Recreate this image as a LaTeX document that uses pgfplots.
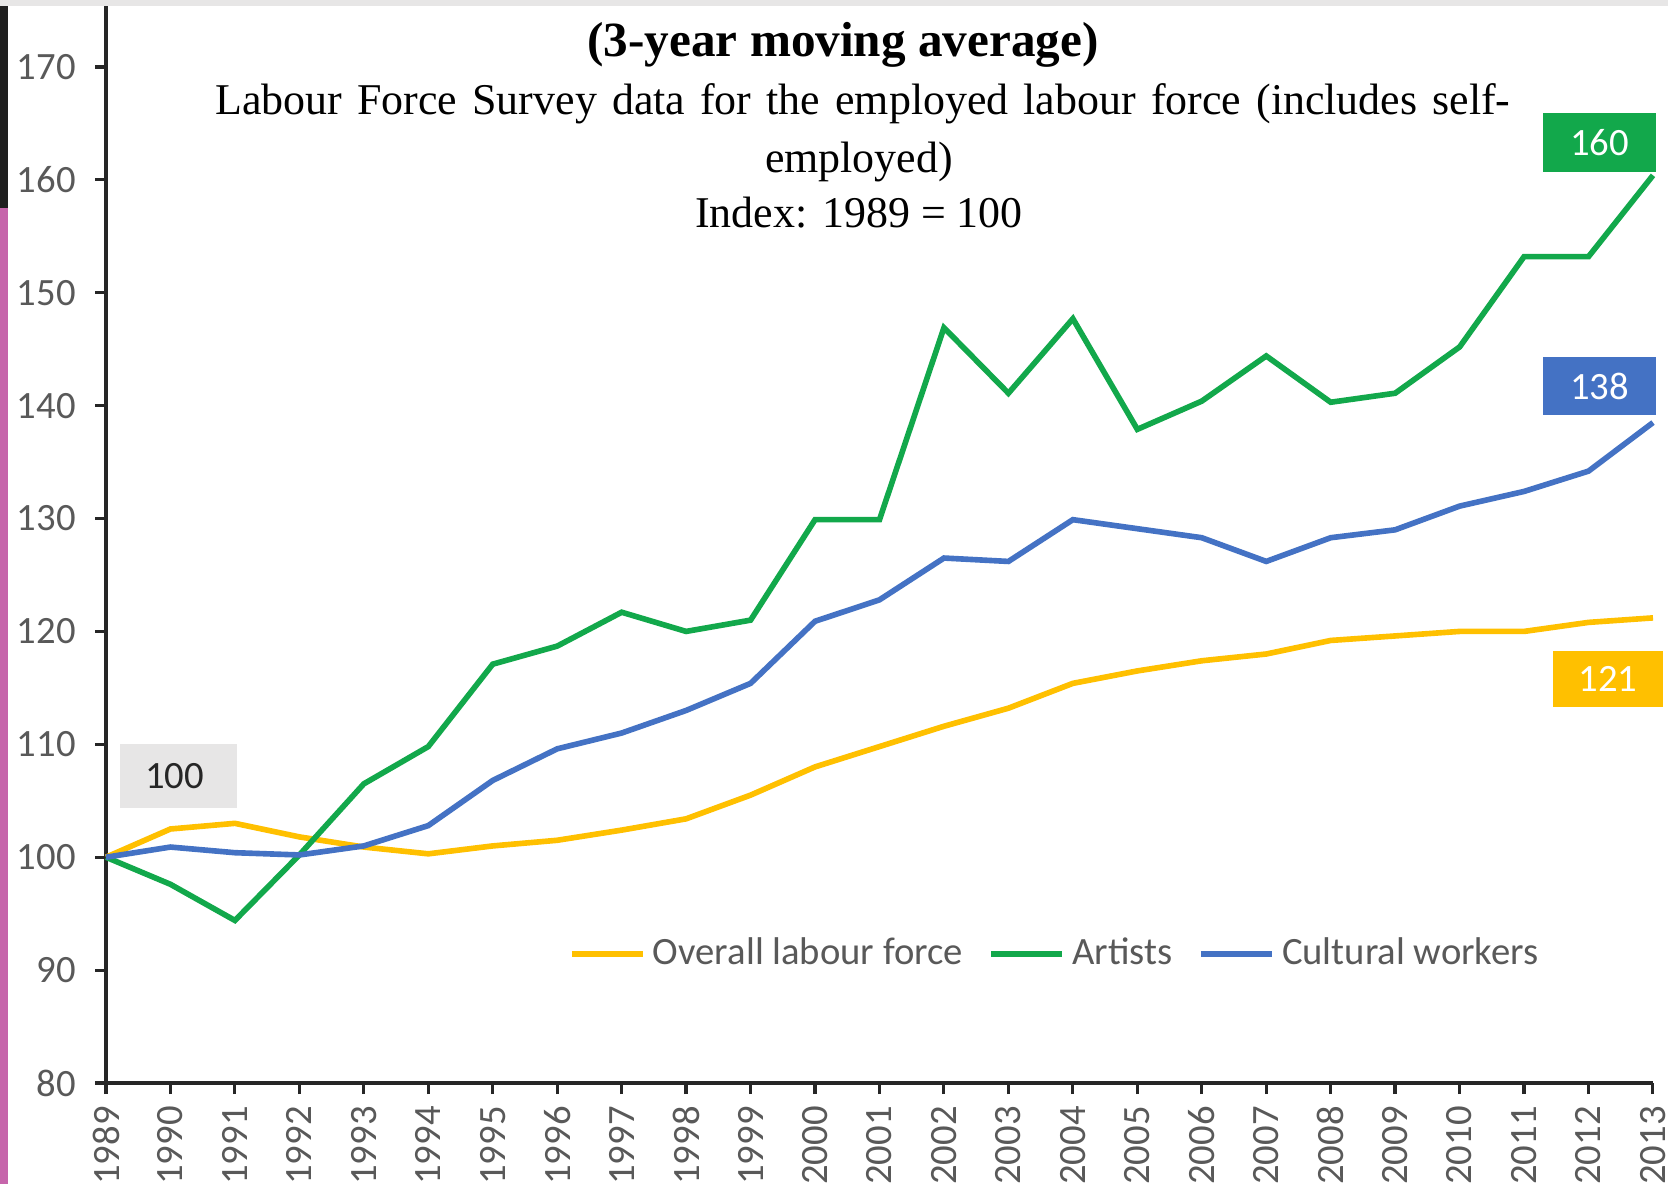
\documentclass[border=0pt]{standalone}
\usepackage{pgfplots}
\pgfplotsset{compat=1.18}
\usepackage{fontspec}
\setmainfont{Liberation Serif}
\newfontfamily\carlito{Carlito}
\definecolor{cgreen}{HTML}{12A84B}
\definecolor{cblue}{HTML}{4472C4}
\definecolor{cgold}{HTML}{FFC000}
\definecolor{tgrey}{HTML}{595959}
\definecolor{boxgrey}{HTML}{E7E6E6}
\definecolor{pinkstrip}{HTML}{C665AB}
\begin{document}
\begin{tikzpicture}
\useasboundingbox (0,0) rectangle (16.68,11.83);
\fill[white] (0,0) rectangle (16.68,11.83);
\fill[boxgrey] (0,11.77) rectangle (16.68,11.84);
\fill[black!88] (0,9.75) rectangle (0.08,11.77);
\fill[pinkstrip] (0,-0.01) rectangle (0.08,9.75);
\begin{axis}[
  at={(1.06cm,1.00cm)}, anchor=south west,
  scale only axis, width=15.47cm, height=10.77cm,
  xmin=1989, xmax=2013, ymin=80, ymax=175.4,
  axis lines=left,
  axis line style={-, line width=0.9pt, black!85},
  xtick={1989,...,2013}, ytick={80,90,...,170},
  tick align=outside, major tick length=0.11cm,
  tick style={black!85, line width=0.9pt},
  ticklabel style={font=\carlito\fontsize{11}{13}\selectfont, text=tgrey},
  /pgf/number format/assume math mode=true,
  /pgf/number format/1000 sep={},
  xticklabel style={rotate=90, anchor=east},
  yticklabel style={xshift=-0.07cm},
  clip=false,
  legend columns=3,
  legend style={at={(0.2986,0.1198)}, anchor=west, draw=none, fill=none,
    inner sep=0pt, font=\carlito\fontsize{11}{13}\selectfont, text=tgrey,
    /tikz/every even column/.append style={column sep=0.18cm}},
  legend image code/.code={\draw[#1, line width=1.8pt] (0cm,0cm) -- (0.71cm,0cm);},
  every axis plot/.append style={line width=1.6pt},
]
\addplot[cgold] coordinates {
(1989,100.0) (1990,102.5) (1991,103.0) (1992,101.8) (1993,100.9) (1994,100.3)
(1995,101.0) (1996,101.5) (1997,102.4) (1998,103.4) (1999,105.5) (2000,108.0)
(2001,109.8) (2002,111.6) (2003,113.2) (2004,115.4) (2005,116.5) (2006,117.4)
(2007,118.0) (2008,119.2) (2009,119.6) (2010,120.0) (2011,120.0) (2012,120.8)
(2013,121.2)};
\addlegendentry{Overall labour force}
\addplot[cgreen] coordinates {
(1989,100.0) (1990,97.6) (1991,94.4) (1992,100.2) (1993,106.5) (1994,109.8)
(1995,117.1) (1996,118.7) (1997,121.7) (1998,120.0) (1999,121.0) (2000,129.9)
(2001,129.9) (2002,146.9) (2003,141.1) (2004,147.7) (2005,137.9) (2006,140.4)
(2007,144.4) (2008,140.3) (2009,141.1) (2010,145.2) (2011,153.2) (2012,153.2)
(2013,160.4)};
\addlegendentry{Artists}
\addplot[cblue] coordinates {
(1989,100.0) (1990,100.9) (1991,100.4) (1992,100.2) (1993,101.0) (1994,102.8)
(1995,106.8) (1996,109.6) (1997,111.0) (1998,113.0) (1999,115.4) (2000,120.9)
(2001,122.8) (2002,126.5) (2003,126.2) (2004,129.9) (2005,129.1) (2006,128.3)
(2007,126.2) (2008,128.3) (2009,129.0) (2010,131.1) (2011,132.4) (2012,134.2)
(2013,138.5)};
\addlegendentry{Cultural workers}
\end{axis}
\node[font=\bfseries\fontsize{14}{16}\selectfont] at (8.43,11.38) {(3-year moving average)};
\node[font=\fontsize{12.5}{15}\selectfont, inner sep=0pt] at (8.63,10.79) {\makebox[12.95cm][s]{Labour Force Survey data for the employed labour force (includes self-}};
\node[font=\fontsize{12.5}{15}\selectfont] at (8.59,10.21) {employed)};
\node[font=\fontsize{12.5}{15}\selectfont] at (8.59,9.70) {Index: 1989 = 100};
\begin{scope}[every node/.style={font=\carlito\fontsize{11}{13}\selectfont, inner sep=0pt}]
\node[fill=cgreen, text=white, minimum width=1.13cm, minimum height=0.59cm] at (15.995,10.405) {160};
\node[fill=cblue, text=white, minimum width=1.13cm, minimum height=0.58cm] at (15.995,7.97) {138};
\node[fill=cgold, text=white, minimum width=1.10cm, minimum height=0.56cm] at (16.08,5.04) {121};
\node[fill=boxgrey, text=black!85, minimum height=0.64cm, text width=0.67cm, align=left, inner xsep=0.25cm] at (1.785,4.07) {100};
\end{scope}
\end{tikzpicture}
\end{document}
